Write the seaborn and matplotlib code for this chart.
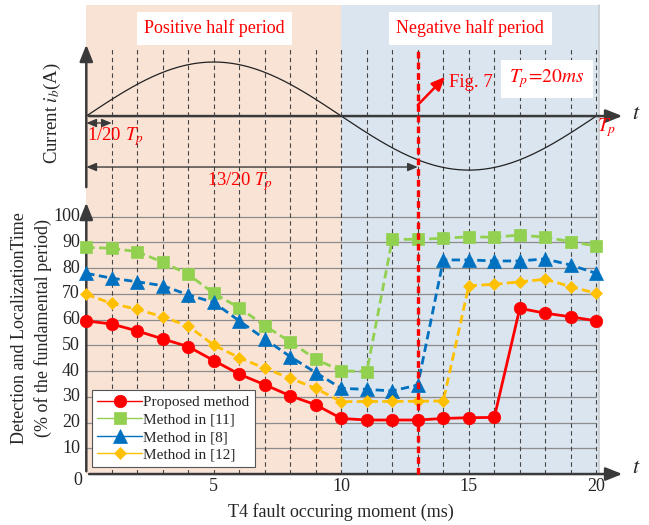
import numpy as np
import matplotlib
matplotlib.use('Agg')
import matplotlib.pyplot as plt
import seaborn as sns

# fault moments (ms) and detection/localization times (% of fundamental period)
moment = list(range(21))
proposed = [59.5, 58.3, 55.6, 52.5, 49.5, 44.1, 38.8, 34.7, 30.4, 26.9,
            21.6, 21.0, 21.0, 21.0, 21.6, 21.9, 22.0, 64.4, 62.5, 61.1, 59.5]
method_11 = [88.1, 87.7, 86.4, 82.3, 77.6, 70.2, 64.6, 57.6, 51.4, 44.6,
             40.1, 39.8, 91.2, 91.2, 91.6, 92.2, 92.0, 92.9, 92.0, 90.3, 88.6]
method_8 = [78.0, 76.1, 74.7, 73.2, 69.6, 66.7, 59.5, 52.5, 45.6, 39.4,
            33.3, 32.9, 32.3, 34.6, 83.2, 83.2, 82.8, 82.8, 83.6, 81.2, 78.0]
method_12 = [69.8, 66.3, 64.0, 61.1, 57.5, 50.1, 45.2, 41.1, 37.2, 33.3,
             28.1, 28.2, 28.2, 28.3, 28.4, 73.2, 73.7, 74.7, 75.7, 72.8, 70.2]

series_names = ['Proposed method', 'Method in [11]', 'Method in [8]', 'Method in [12]']
y_ticks = [10, 20, 30, 40, 50, 60, 70, 80, 90, 100]
x_ticks = [5, 10, 15, 20]
fault_moment = 13

sns.set_style('white')
plt.rcParams['font.family'] = ['Liberation Serif', 'DejaVu Serif']
plt.rcParams['mathtext.fontset'] = 'stix'

fig = plt.figure(figsize=(6.49, 5.25), dpi=100)
ax = fig.add_axes([0, 0, 1, 1])
ax.set_xlim(-3.384, 22.067)
ax.set_ylim(-19.8, 184.2)
ax.axis('off')

RED = '#ff0000'
TOP = 182.3       # top of shaded bands
SIN_C, SIN_A = 139.1, 21.0

#------------ background bands ------------#
ax.fill_between([0, 10], 0, TOP, color='#f9e3d5', zorder=0, lw=0)
ax.fill_between([10, 20.1], 0, TOP, color='#dae5ef', zorder=0, lw=0)
ax.plot([20.12, 20.12], [0, TOP], color='#c8ccd0', lw=1.2, zorder=0)

# grid
for v in y_ticks:
    ax.plot([0, 20], [v, v], color='#8c8c8c', lw=0.9, zorder=1)
for i in range(1, 21):
    ax.plot([i, i], [0, 165.6], color='#444444', lw=0.8, ls=(0, (4, 3)), zorder=1)

#------------ top panel: phase current ------------#
t = np.linspace(0, 20, 300)
ax.plot(t, SIN_C + SIN_A * np.sin(2 * np.pi * t / 20), color='#222222', lw=0.9, zorder=2)

arrow_kw = dict(arrowstyle='-|>,head_length=1.0,head_width=0.4', color='#3a3a3a', lw=1.8)
ax.annotate('', xy=(21.13, SIN_C), xytext=(0, SIN_C), arrowprops=arrow_kw, zorder=3)
ax.annotate('', xy=(0, 167.9), xytext=(0, 110.4), arrowprops=arrow_kw, zorder=3)
ax.annotate('', xy=(21.13, 0), xytext=(0, 0), arrowprops=arrow_kw, zorder=3)
ax.annotate('', xy=(0, 106.5), xytext=(0, 0), arrowprops=arrow_kw, zorder=3)
ax.text(21.56, SIN_C + 0.8, '$t$', fontsize=16, va='center', ha='center')
ax.text(21.56, 2.3, '$t$', fontsize=16, va='center', ha='center')

dbl = dict(arrowstyle='<|-|>,head_length=0.6,head_width=0.25', color='#3a3a3a', lw=1.0,
           shrinkA=0, shrinkB=0)
ax.annotate('', xy=(1, 136.4), xytext=(0, 136.4), arrowprops=dbl)
ax.text(1.13, 131, r'1/20 $T_p$', color=RED, fontsize=13.5, ha='center', va='center')
ax.annotate('', xy=(fault_moment, 119.3), xytext=(0, 119.3), arrowprops=dbl)
ax.text(6.04, 113.5, r'13/20 $T_p$', color=RED, fontsize=13.5, ha='center', va='center')

box = dict(boxstyle='square,pad=0.42', fc='white', ec='none')
ax.text(5.03, 173.3, 'Positive half period', color=RED, fontsize=13,
        ha='center', va='center', bbox=box)
ax.text(15.05, 173.3, 'Negative half period', color=RED, fontsize=13,
        ha='center', va='center', bbox=box)
ax.text(18.07, 153.5, r'$T_p\!=\!20ms$', color=RED, fontsize=14,
        ha='center', va='center', bbox=dict(boxstyle='square,pad=0.4', fc='white', ec='none'))
ax.text(20.42, 134.5, '$T_p$', color=RED, fontsize=14, ha='center', va='center')

# fault instant
ax.plot([fault_moment, fault_moment], [0, 165.6], color=RED, lw=2.4,
        ls=(0, (2, 1.2)), zorder=6)
ax.annotate('', xy=(14.07, 154.3), xytext=(fault_moment, 143.4),
            arrowprops=dict(arrowstyle='-|>,head_length=0.8,head_width=0.35',
                            color=RED, lw=1.8, shrinkA=0, shrinkB=0), zorder=6)
ax.text(14.22, 152, 'Fig. 7', color=RED, fontsize=13.5, ha='left', va='center')

#------------ bottom panel: detection times ------------#
styles = [
    (proposed, RED, 'o', 9.0, '-'),
    (method_11, '#92d050', 's', 8.5, (0, (3, 1.6))),
    (method_8, '#0070c0', '^', 9.5, (0, (3, 1.6))),
    (method_12, '#ffc000', 'D', 6.5, (0, (3, 1.6))),
]
for (vals, col, mk, ms, ls), name in zip(styles, series_names):
    sns.lineplot(x=moment, y=vals, ax=ax, color=col, marker=mk, markersize=ms,
                 markeredgecolor=col, markeredgewidth=0.5, linestyle=ls, lw=2.0,
                 label=name, zorder=5)

leg = ax.legend(loc='lower left', bbox_to_anchor=(92 / 649, 1 - 467 / 525),
                fontsize=11, frameon=True, fancybox=False, edgecolor='#555555',
                framealpha=1, handlelength=2.9, handletextpad=0.1,
                borderpad=0.35, labelspacing=0.25, borderaxespad=0)
leg.get_frame().set_linewidth(0.8)
for h in leg.get_lines():
    h.set_linestyle('-')
    h.set_linewidth(1.0)

# tick labels
for v in y_ticks:
    ax.text(-0.25, v, str(v), fontsize=13, ha='right', va='center')
ax.text(-0.33, -2.5, '0', fontsize=13, ha='center', va='center')
for v in x_ticks:
    ax.text(v, -4.9, str(v), fontsize=13, ha='center', va='center')

ax.text(10.0, -14.6, 'T4 fault occuring moment (ms)', fontsize=13, ha='center', va='center')
ax.text(-2.6, 56.7, 'Detection and LocalizationTime', fontsize=13,
        rotation=90, ha='center', va='center')
ax.text(-1.7, 56.7, '(% of the fundamental period)', fontsize=13,
        rotation=90, ha='center', va='center')
ax.text(-1.34, 140.3, 'Current $i_b$(A)', fontsize=13.5, rotation=90, ha='center', va='center')

fig.savefig('out.png', dpi=100)
